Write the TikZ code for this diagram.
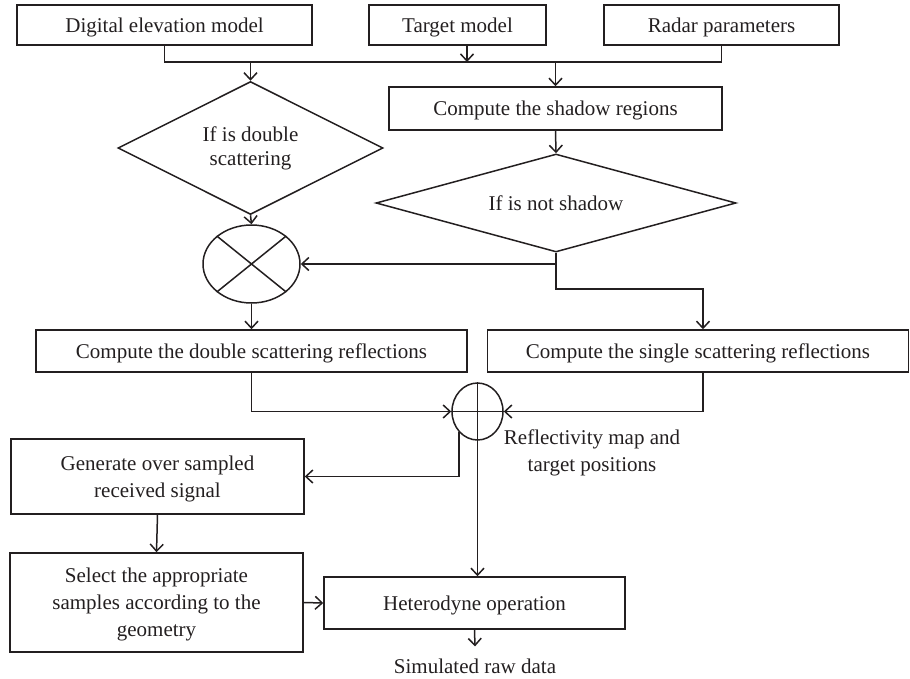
\documentclass[tikz,border=0pt]{standalone}
\usepackage{fontspec}
\setmainfont{Liberation Serif}
\usepackage{xcolor}
\usetikzlibrary{shapes.geometric,arrows.meta,calc}

\definecolor{ink}{HTML}{231F20}

\begin{document}
\begin{tikzpicture}[x=1pt,y=-1pt,
    every node/.style={font=\fontsize{21}{27}\selectfont, text=ink},
    box/.style={draw=ink, line width=1.5pt, inner sep=0pt, text depth=0pt, align=center},
    decision/.style={diamond, draw=ink, line width=1.5pt, inner sep=0pt, align=center},
    joint/.style={ellipse, draw=ink, line width=1.5pt, inner sep=0pt},
    link/.style={draw=ink, line width=1.5pt},
    arr/.style={link, -{Straight Barb[length=7pt,width=13pt]}}]
    \useasboundingbox (0,0) rectangle (910,678);

    % Inputs
    \node[box, minimum width=295pt, minimum height=40pt] (dem) at (164.5,25) {Digital elevation model};
    \node[box, minimum width=177pt, minimum height=40pt] (tgt) at (457.5,25) {Target model};
    \node[box, minimum width=235pt, minimum height=40pt] (radar) at (721.5,25) {Radar parameters};

    % Shadow branch
    \node[box, minimum width=333pt, minimum height=43pt] (shadow) at (555.5,108.5) {Compute the shadow regions};
    \node[decision, shape aspect=3.6, minimum width=360pt, minimum height=98pt] (notshadow) at (556,203) {If is not shadow};

    % Double scattering branch
    \node[decision, shape aspect=2, minimum width=265pt, minimum height=133pt, font=\fontsize{21}{24}\selectfont] (isdouble) at (250.5,148) {If is double\\scattering};
    \node[joint, minimum width=97pt, minimum height=78pt] (mult) at (251.5,264) {};

    % Reflections
    \node[box, minimum width=431pt, minimum height=42pt] (double) at (251.5,351) {Compute the double scattering reflections};
    \node[box, minimum width=421pt, minimum height=42pt] (single) at (698,351) {Compute the single scattering reflections};
    \node[joint, minimum width=51pt, minimum height=57pt] (sum) at (477.5,411.5) {};
    \node[align=center] (refl) at (592,453) {Reflectivity map and\\target positions};

    % Raw data generation
    \node[box, minimum width=293pt, minimum height=75pt] (gen) at (157.5,476.5) {Generate over sampled\\received signal};
    \node[box, minimum width=293pt, minimum height=99pt] (sel) at (156.5,602.5) {Select the appropriate\\samples according to the\\geometry};
    \node[box, minimum width=301pt, minimum height=52pt] (het) at (474.5,603) {Heterodyne operation};
    \node[inner sep=0pt] (raw) at (475,666) {Simulated raw data};

    % Connectors
    \coordinate (bus) at (0,62);
    \coordinate (tgtout) at ([xshift=9.5pt]tgt.south);
    \coordinate (split) at (556,289);
    \draw[link] (dem.south) -- (dem.south |- bus) -- (radar.south |- bus) -- (radar.south);
    \draw[arr] (tgtout) -- (tgtout |- bus);
    \draw[arr] (isdouble.north |- bus) -- (isdouble.north);
    \draw[arr] (shadow.north |- bus) -- (shadow.north);
    \draw[arr] (shadow.south) -- (notshadow.north);
    \draw[arr] (isdouble.south) -- (mult.north);
    \draw[link] (mult.north east) -- (mult.south west) (mult.north west) -- (mult.south east);
    \draw[arr] (notshadow.south) |- (mult.east);
    \draw[arr] (notshadow.south) -- (split) -| ([xshift=5pt]single.north);
    \draw[arr] (mult.south) -- (double.north);
    \draw[arr] (double.south) |- (sum.west);
    \draw[arr] ([xshift=5pt]single.south) |- (sum.east);
    \draw[link] (sum.north) -- (sum.south) (sum.west) -- (sum.east);
    \draw[arr] (sum.228) |- (gen.east);
    \draw[arr] (sum.south) -- (sum.south |- het.north);
    \draw[arr] (gen.south) -- (sel.north);
    \draw[arr] (sel.east) -- (het.west);
    \draw[arr] (het.south) -- ([yshift=12pt]raw.north);
\end{tikzpicture}
\end{document}
